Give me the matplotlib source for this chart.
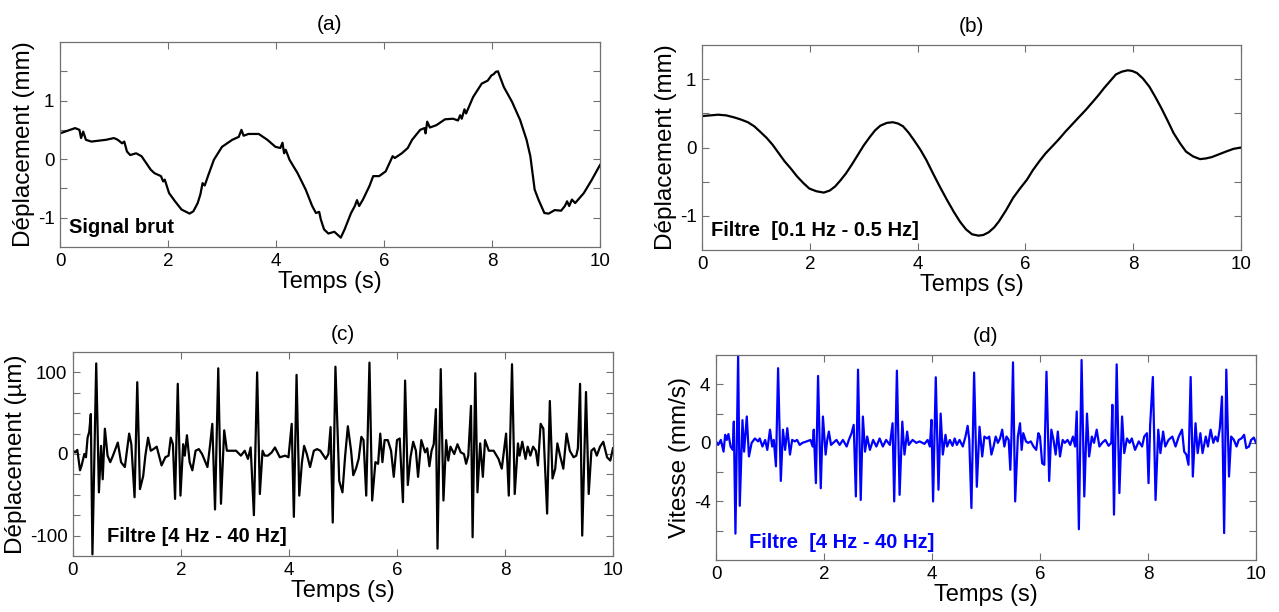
import numpy as np
import matplotlib
matplotlib.use("Agg")
import matplotlib.pyplot as plt

plt.rcParams['font.family'] = ['Liberation Sans', 'DejaVu Sans']

# (a) signal brut (mm)
t_a = [0, 0.28, 0.36, 0.39, 0.43, 0.48, 0.58, 0.85, 1.0, 1.07, 1.15, 1.19, 1.24, 1.30, 1.41, 1.51,
       1.68, 1.75, 1.87, 1.91, 1.94, 2.02, 2.13, 2.25, 2.40, 2.47, 2.55, 2.60, 2.64, 2.68, 2.74, 2.85,
       3.0, 3.19, 3.31, 3.36, 3.40, 3.49, 3.68, 3.84, 3.99, 4.08, 4.12, 4.15, 4.18, 4.25, 4.40, 4.55,
       4.67, 4.74, 4.80, 4.83, 4.89, 4.97, 5.08, 5.20, 5.27, 5.39, 5.46, 5.50, 5.54, 5.61, 5.73, 5.80,
       5.91, 6.03, 6.10, 6.16, 6.20, 6.33, 6.44, 6.52, 6.67, 6.75, 6.77, 6.80, 6.85, 6.97, 7.13, 7.28,
       7.37, 7.41, 7.44, 7.49, 7.52, 7.65, 7.81, 7.92, 7.99, 8.03, 8.07, 8.11, 8.15, 8.22, 8.37, 8.52,
       8.64, 8.71, 8.79, 8.86, 8.97, 9.05, 9.16, 9.28, 9.35, 9.39, 9.43, 9.48, 9.54, 9.70, 9.85, 10.0]
y_a = [0.44, 0.53, 0.50, 0.36, 0.47, 0.33, 0.30, 0.33, 0.36, 0.33, 0.27, 0.30, 0.13, 0.07, 0.10, 0.05,
       -0.18, -0.24, -0.29, -0.38, -0.35, -0.58, -0.72, -0.86, -0.93, -0.89, -0.75, -0.60, -0.41, -0.45, -0.29, -0.01,
       0.21, 0.33, 0.38, 0.50, 0.40, 0.43, 0.43, 0.33, 0.21, 0.19, 0.28, 0.10, 0.16, -0.01, -0.24, -0.52,
       -0.80, -0.92, -0.90, -1.03, -1.20, -1.27, -1.24, -1.34, -1.20, -0.92, -0.80, -0.70, -0.80, -0.69, -0.46, -0.29,
       -0.29, -0.21, -0.07, 0.05, 0.02, 0.10, 0.19, 0.33, 0.50, 0.53, 0.44, 0.64, 0.54, 0.58, 0.68, 0.69,
       0.66, 0.75, 0.69, 0.85, 0.78, 1.06, 1.29, 1.34, 1.43, 1.45, 1.49, 1.50, 1.40, 1.23, 0.98, 0.67,
       0.33, 0.05, -0.52, -0.69, -0.92, -0.93, -0.87, -0.88, -0.80, -0.72, -0.80, -0.69, -0.75, -0.58, -0.35, -0.10]

# (b) filtre 0.1-0.5 Hz (mm)
t_b = [0, 0.15, 0.30, 0.45, 0.60, 0.72, 0.85, 0.97, 1.08, 1.20, 1.31, 1.42, 1.53, 1.65, 1.76, 1.88,
       1.99, 2.12, 2.26, 2.37, 2.47, 2.57, 2.67, 2.78, 2.89, 3.00, 3.12, 3.21, 3.31, 3.43, 3.54, 3.64,
       3.73, 3.83, 3.93, 4.05, 4.16, 4.28, 4.41, 4.54, 4.67, 4.79, 4.90, 5.01, 5.13, 5.22, 5.32, 5.42,
       5.51, 5.64, 5.77, 5.90, 6.03, 6.14, 6.26, 6.37, 6.49, 6.62, 6.74, 6.87, 7.00, 7.12, 7.23, 7.35,
       7.46, 7.57, 7.68, 7.79, 7.90, 7.98, 8.07, 8.18, 8.30, 8.41, 8.52, 8.64, 8.75, 8.87, 8.98, 9.11,
       9.24, 9.35, 9.46, 9.59, 9.72, 9.86, 10.0]
y_b = [0.46, 0.47, 0.48, 0.47, 0.44, 0.41, 0.37, 0.31, 0.23, 0.14, 0.04, -0.08, -0.20, -0.31, -0.42, -0.52,
       -0.60, -0.64, -0.66, -0.63, -0.57, -0.48, -0.38, -0.25, -0.11, 0.03, 0.16, 0.25, 0.32, 0.36, 0.37, 0.35,
       0.31, 0.22, 0.11, -0.03, -0.18, -0.37, -0.57, -0.76, -0.94, -1.09, -1.20, -1.27, -1.29, -1.28, -1.24, -1.17,
       -1.08, -0.92, -0.74, -0.60, -0.47, -0.33, -0.20, -0.09, 0.01, 0.12, 0.23, 0.34, 0.45, 0.55, 0.65, 0.76,
       0.87, 0.97, 1.07, 1.11, 1.13, 1.12, 1.09, 1.01, 0.89, 0.74, 0.58, 0.39, 0.21, 0.06, -0.06, -0.13,
       -0.17, -0.16, -0.14, -0.10, -0.06, -0.02, 0.0]

# (c) filtre 4-40 Hz (um)
t_c = [0, 0.04, 0.08, 0.13, 0.16, 0.21, 0.24, 0.27, 0.30, 0.33, 0.36, 0.43, 0.48, 0.52, 0.55, 0.59,
       0.64, 0.69, 0.74, 0.83, 0.89, 0.96, 1.04, 1.08, 1.14, 1.19, 1.24, 1.30, 1.34, 1.39, 1.44, 1.49,
       1.55, 1.64, 1.71, 1.77, 1.81, 1.85, 1.89, 1.94, 1.99, 2.04, 2.07, 2.11, 2.16, 2.21, 2.27, 2.33,
       2.39, 2.49, 2.54, 2.58, 2.63, 2.69, 2.74, 2.80, 2.85, 2.93, 3.02, 3.11, 3.18, 3.24, 3.29, 3.35,
       3.41, 3.46, 3.51, 3.55, 3.61, 3.68, 3.74, 3.83, 3.93, 3.99, 4.05, 4.09, 4.14, 4.19, 4.24, 4.28,
       4.33, 4.39, 4.46, 4.52, 4.58, 4.68, 4.73, 4.77, 4.81, 4.86, 4.93, 4.99, 5.04, 5.09, 5.15, 5.19,
       5.24, 5.29, 5.34, 5.38, 5.43, 5.49, 5.54, 5.60, 5.65, 5.69, 5.73, 5.77, 5.83, 5.89, 5.94, 6.00,
       6.05, 6.11, 6.15, 6.20, 6.25, 6.30, 6.35, 6.39, 6.45, 6.52, 6.56, 6.60, 6.64, 6.68, 6.72, 6.75,
       6.81, 6.86, 6.91, 6.95, 6.99, 7.06, 7.12, 7.18, 7.24, 7.28, 7.32, 7.37, 7.40, 7.45, 7.49, 7.54,
       7.59, 7.63, 7.70, 7.79, 7.88, 7.94, 7.98, 8.02, 8.07, 8.13, 8.18, 8.24, 8.27, 8.32, 8.38, 8.42,
       8.47, 8.52, 8.57, 8.61, 8.66, 8.71, 8.78, 8.83, 8.88, 8.93, 8.97, 9.02, 9.08, 9.14, 9.20, 9.27,
       9.32, 9.35, 9.39, 9.43, 9.50, 9.55, 9.60, 9.65, 9.70, 9.76, 9.82, 9.89, 9.95, 10.0]
y_c = [4, 2, 5, -20, -14, 0, -4, 20, 27, 49, -123, 111, -47, 10, -31, 31,
       -2, -10, -2, 14, -10, -16, 25, 12, -53, 88, -43, -27, -2, 20, 4, 6,
       9, -14, -4, -2, 20, 12, -55, 86, -51, 12, -2, 23, -10, -20, 4, 6,
       0, -16, 12, 37, -68, 105, -61, 29, 4, 4, 4, -2, 4, -6, 8, -75,
       100, -49, 4, -2, -2, 2, 8, -4, -2, -4, 37, -77, 97, -51, -10, 10,
       0, -16, 4, 6, 4, -6, 0, 33, -84, 107, -33, -47, -2, 34, 4, -26,
       -18, -6, 21, 17, -51, 112, -57, -10, -12, 25, -10, 17, 17, 4, -28, 17,
       19, -59, 90, -38, -4, 15, 4, -28, 17, 2, 7, -15, 4, 12, 55, -116,
       104, -57, 17, -8, 9, 0, 12, 2, 0, -12, -2, 59, -102, 99, -47, 13,
       -28, 17, 4, 4, -6, -18, 4, 25, -51, 110, -49, 13, -2, 15, -6, 9,
       -2, 9, 4, -14, 37, 31, -73, 65, -30, -18, 13, -2, -18, 25, 4, -4,
       -2, 7, 86, -100, 76, -49, 4, 7, -2, 9, 15, -4, -8, 7]

# (d) vitesse, filtre 4-40 Hz (mm/s)
t_d = [0, 0.04, 0.09, 0.14, 0.17, 0.20, 0.23, 0.27, 0.31, 0.33, 0.36, 0.41, 0.44, 0.49, 0.52, 0.57,
       0.61, 0.66, 0.72, 0.78, 0.81, 0.86, 0.91, 0.95, 1.00, 1.04, 1.07, 1.11, 1.15, 1.20, 1.24, 1.28,
       1.32, 1.37, 1.41, 1.46, 1.50, 1.55, 1.60, 1.68, 1.75, 1.79, 1.81, 1.85, 1.89, 1.94, 1.98, 2.03,
       2.06, 2.09, 2.13, 2.17, 2.23, 2.29, 2.35, 2.42, 2.46, 2.51, 2.55, 2.59, 2.63, 2.68, 2.72, 2.76,
       2.80, 2.85, 2.91, 2.97, 3.03, 3.09, 3.15, 3.22, 3.27, 3.30, 3.35, 3.40, 3.45, 3.49, 3.54, 3.57,
       3.64, 3.71, 3.77, 3.86, 3.92, 3.96, 3.99, 4.02, 4.07, 4.12, 4.16, 4.20, 4.25, 4.28, 4.33, 4.38,
       4.42, 4.46, 4.51, 4.57, 4.62, 4.66, 4.69, 4.73, 4.78, 4.83, 4.88, 4.93, 4.97, 5.02, 5.06, 5.10,
       5.14, 5.18, 5.22, 5.26, 5.30, 5.34, 5.38, 5.42, 5.45, 5.47, 5.50, 5.54, 5.59, 5.63, 5.66, 5.69,
       5.74, 5.78, 5.83, 5.88, 5.93, 5.97, 6.00, 6.04, 6.08, 6.12, 6.17, 6.21, 6.25, 6.29, 6.33, 6.37,
       6.42, 6.46, 6.51, 6.56, 6.61, 6.65, 6.68, 6.72, 6.77, 6.82, 6.87, 6.91, 6.96, 7.00, 7.05, 7.10,
       7.15, 7.21, 7.27, 7.32, 7.34, 7.37, 7.42, 7.47, 7.52, 7.56, 7.61, 7.66, 7.70, 7.76, 7.83, 7.89,
       7.93, 7.98, 8.01, 8.04, 8.09, 8.14, 8.19, 8.23, 8.28, 8.32, 8.38, 8.45, 8.51, 8.57, 8.63, 8.67,
       8.71, 8.75, 8.79, 8.83, 8.88, 8.92, 8.97, 9.01, 9.07, 9.11, 9.16, 9.21, 9.25, 9.29, 9.33, 9.37,
       9.41, 9.45, 9.50, 9.54, 9.59, 9.64, 9.68, 9.73, 9.78, 9.82, 9.87, 9.91, 9.96, 10.0]
y_d = [0.1, -0.14, 0.2, -0.6, 0.55, 0.2, 0.6, -0.25, -0.48, 1.45, -6.2, 6.0, -4.3, 1.55, -0.6, 1.8,
       -0.93, 0.0, 0.3, 0.1, 0.3, -0.25, 0.2, -0.48, 0.9, -0.25, 0.2, -1.6, 5.1, -2.6, 0.9, -0.48,
       1.0, -0.8, 0.2, 0.1, 0.2, -0.14, 0.0, 0.1, 0.2, -0.25, 0.9, -2.75, 4.57, -3.1, 1.8, -0.8,
       0.2, 0.77, -0.14, 0.0, 0.2, -0.14, 0.2, -0.25, 0.2, 0.66, 1.23, -3.66, 5.0, -3.9, 1.8, -0.6,
       0.43, -0.48, 0.2, -0.25, 0.3, -0.25, 0.2, -0.14, 1.34, -4.0, 4.93, -3.55, 1.45, -0.8, 0.77, -0.14,
       0.2, 0.0, 0.1, -0.07, 0.2, -0.25, 1.57, -4.0, 4.48, -3.2, 2.0, -0.8, 0.55, -0.25, 0.2, -0.2,
       0.3, -0.14, 0.2, -0.25, 0.43, 1.16, 0.2, -4.45, 4.8, -3.0, 1.1, -0.93, 0.43, 0.3, 0.43, -0.8,
       -0.25, 0.43, 0.0, 0.3, 0.9, -0.25, 0.43, 0.2, -1.84, 0.2, 5.5, -4.0, 0.43, 1.34, -0.48, 0.66,
       0.1, 0.0, 0.1, -0.25, -0.48, 0.66, 0.43, -1.4, -1.5, 4.86, -2.6, 0.9, 0.2, -0.8, 0.77, -0.93,
       0.2, 0.0, 0.2, -0.14, 0.43, -0.25, 2.14, -5.9, 5.66, -3.66, 2.0, -0.93, 0.43, 0.0, 0.9, -0.25,
       0.0, 0.2, -0.2, 0.0, 2.6, -4.9, 5.36, -3.43, 1.8, -0.7, 0.3, 0.0, 0.3, -0.48, 0.1, -0.25,
       0.43, 0.66, -2.75, 1.23, 4.5, -3.9, 0.9, -0.7, 0.77, -0.25, 0.2, 0.43, -0.25, 0.43, 0.9, -0.6,
       -0.8, -1.5, 4.5, -2.3, 1.34, -0.7, 0.66, -0.7, 0.43, -0.25, 0.9, 0.0, 0.43, 0.1, 1.0, 3.16,
       -6.16, 5.0, -2.3, 0.43, 0.2, -0.25, 0.2, 0.3, 0.55, -0.36, -0.25, 0.2, 0.36, 0.0]

W, H = 1279, 612
fig = plt.figure(figsize=(W / 100, H / 100), dpi=100)

def make_ax(l, t, r, b):
    return fig.add_axes([l / W, 1 - b / H, (r - l) / W, (b - t) / H])

panels = [
    dict(box=(60, 42, 600, 247), t=t_a, y=y_a, color='black', ylim=(-1.5, 2), step=0.5,
         labels=(-1, 0, 1), ylabel='Déplacement (mm)', title='(a)', text='Signal brut', tx=0.016, ty=0.095),
    dict(box=(702, 45, 1241, 250), t=t_b, y=y_b, color='black', ylim=(-1.5, 1.5), step=0.5,
         labels=(-1, 0, 1), ylabel='Déplacement (mm)', title='(b)', text='Filtre  [0.1 Hz - 0.5 Hz]', tx=0.016, ty=0.095),
    dict(box=(73, 352, 613, 556), t=t_c, y=y_c, color='black', ylim=(-125, 125), step=25,
         labels=(-100, 0, 100), ylabel='Déplacement (µm)', title='(c)', text='Filtre [4 Hz - 40 Hz]', tx=0.063, ty=0.095),
    dict(box=(716, 355, 1256, 560), t=t_d, y=y_d, color='#0000ff', ylim=(-8, 6), step=2,
         labels=(-4, 0, 4), ylabel='Vitesse (mm/s)', title='(d)', text='Filtre  [4 Hz - 40 Hz]', tx=0.062, ty=0.085),
]

for p in panels:
    ax = make_ax(*p['box'])
    ax.plot(p['t'], p['y'], color=p['color'], lw=1.6)
    ax.set_xlim(0, 10)
    ax.set_ylim(*p['ylim'])
    ax.set_xticks(np.arange(0, 11, 2))
    yt = np.arange(p['ylim'][0], p['ylim'][1] + 1e-9, p['step'])
    yt = yt[(yt > p['ylim'][0] + 1e-9) & (yt < p['ylim'][1] - 1e-9)]
    ax.set_yticks(yt)
    ax.set_yticklabels([('%g' % v) if any(abs(v - L) < 1e-9 for L in p['labels']) else '' for v in yt])
    ax.tick_params(direction='in', top=True, right=True, length=5, width=0.8,
                   color='#707070', labelsize=13.5, pad=4)
    for s in ax.spines.values():
        s.set_color('#707070')
        s.set_linewidth(0.9)
    ax.set_xlabel('Temps (s)', fontsize=17, labelpad=1)
    ax.set_ylabel(p['ylabel'], fontsize=17.5, labelpad=2)
    ax.set_title(p['title'], fontsize=15, pad=9)
    ax.text(p['tx'], p['ty'], p['text'], transform=ax.transAxes, fontsize=14.5,
            fontweight='bold', color=p['color'], va='center', ha='left')

fig.savefig('out.png', dpi=100)
